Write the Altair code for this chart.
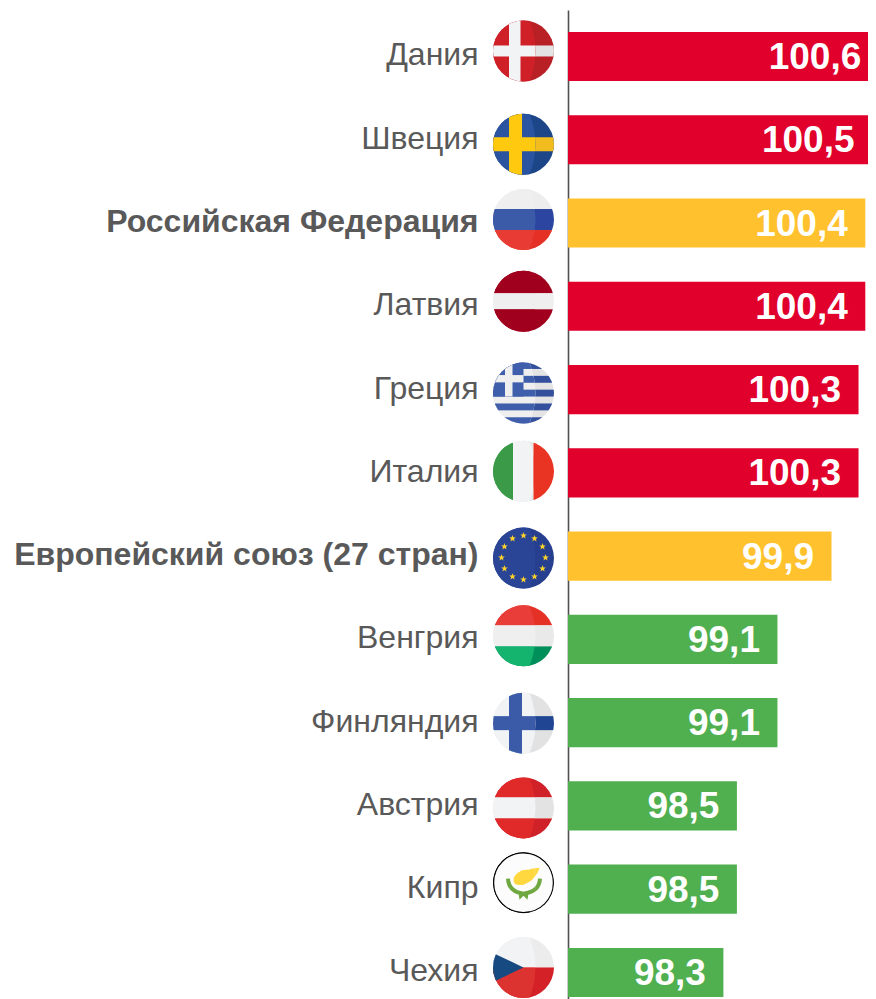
import base64
import math
import altair as alt
import pandas as pd

countries = ["Дания", "Швеция", "Российская Федерация", "Латвия", "Греция", "Италия",
             "Европейский союз (27 стран)", "Венгрия", "Финляндия", "Австрия", "Кипр", "Чехия"]
values = [100.6, 100.5, 100.4, 100.4, 100.3, 100.3, 99.9, 99.1, 99.1, 98.5, 98.5, 98.3]
value_labels = ["100,6", "100,5", "100,4", "100,4", "100,3", "100,3", "99,9", "99,1", "99,1", "98,5", "98,5", "98,3"]
groups = ["high", "high", "ref", "high", "high", "high", "ref", "low", "low", "low", "low", "low"]
bold_labels = ["Российская Федерация", "Европейский союз (27 стран)"]
group_names = ["high", "ref", "low"]
group_colors = ["#E0002B", "#FFC22E", "#50B050"]
axis_start = 96


def rect(x0, y0, x1, y1, c):
    return f'<rect x="{x0}" y="{y0}" width="{x1 - x0}" height="{y1 - y0}" fill="{c}"/>'


def bands(top, mid, bot, h):
    def draw(i):
        return (rect(-40, -40, 40, -h, top[i]) + rect(-40, -h, 40, h, mid[i]) + rect(-40, h, 40, 40, bot[i]))
    return draw


def cross(bg, fg, x0, x1, h):
    def draw(i):
        return (rect(-40, -40, 40, 40, bg[i]) + rect(x0, -40, x1, 40, fg[i]) + rect(-40, -h, 40, h, fg[i]))
    return draw


def greece(i):
    blue = ("#3F5EAB", "#34509C")[i]
    white = ("#EFEFEF", "#E4E4E4")[i]
    s = rect(-40, -40, 40, 40, white)
    for k in (0, 2, 4, 6, 8):
        y = -31 + k * 6.9
        s += rect(-40, y, 40, y + 6.9, blue)
    s += rect(-40, -40, 0, 3.5, blue)
    s += rect(-18.5, -40, -11, 3.5, white) + rect(-40, -18, 0, -10.7, white)
    return s


def italy(i):
    return (rect(-40, -40, -10.5, 40, "#3A9A47") + rect(-10.5, -40, 10, 40, ("#F2F3F5", "#E6E6E6")[i])
            + rect(10, -40, 40, 40, "#E93323"))


def star(cx, cy, r):
    pts = []
    for k in range(10):
        a = -math.pi / 2 + k * math.pi / 5
        q = r if k % 2 == 0 else r * 0.42
        pts.append(f"{cx + q * math.cos(a):.2f},{cy + q * math.sin(a):.2f}")
    return f'<polygon points="{" ".join(pts)}" fill="#FFD329"/>'


def eu(i):
    s = rect(-40, -40, 40, 40, ("#2A4596", "#263F8E")[i])
    for k in range(12):
        a = k * math.pi / 6
        s += star(22 * math.cos(a), -0.5 + 22 * math.sin(a), 3.5)
    return s


def czech(i):
    return (rect(-40, -40, 40, 0, ("#F2F3F5", "#ECECEC")[i]) + rect(-40, 0, 40, 40, ("#DD3330", "#D42027")[i])
            + '<polygon points="0,0 -42,-20 -42,20" fill="#174A80"/>')


def cyprus(i):
    return ('<circle r="30" fill="#FCFCFC" stroke="#000" stroke-width="1.4"/>'
            '<path d="M-10,-2 C-10,-7 -7,-9 -4,-11 C0,-14 4,-12 8,-14 L16,-15 C15,-11 13,-8 11,-6 '
            'C9,-3 7,-1 4,0 C1,2 -2,3 -6,2 C-8,2 -10,0 -10,-2 Z" fill="#FFD83F"/>'
            '<path d="M-15.5,-4 C-15,6 -8,10 0,11 C8,10 16,6 16.5,-4" fill="none" stroke="#6FA840" stroke-width="4"/>'
            '<path d="M-5,10 L-4,17 L0,13 L4,17 L5,10 Z" fill="#6FA840"/>')


flag_draw = [
    (cross(("#CF2028", "#B82026"), ("#F2F3F5", "#E3E3E3"), -14.5, -3, 5.5), -5.5),
    (cross(("#2A54A0", "#1C4688"), ("#FFC90F", "#F0BC1E"), -14.5, -1.5, 7), 4.5),
    (bands(("#EFEFEF", "#EDEDED"), ("#3B5AA8", "#2B45A0"), ("#E73B33", "#E53025"), 10.5), -3.5),
    (bands(("#A0001E", "#A0001E"), ("#EFEFEF", "#EFEFEF"), ("#A0001E", "#A0001E"), 8), -5),
    (greece, 3.5),
    (italy, -1.5),
    (eu, 2),
    (bands(("#E83D38", "#E53025"), ("#EFEFEF", "#E9E9E9"), ("#14B46E", "#008F5A"), 10.5), -3.5),
    (cross(("#F2F3F5", "#E2E2E2"), ("#3B5AA8", "#1F4593"), -14.5, -1.5, 7), 0.5),
    (bands(("#E02A2A", "#D02028"), ("#F2F3F5", "#E3E3E3"), ("#E02A2A", "#D02028"), 10.5), 2),
    (cyprus, -6.5),
    (czech, -5),
]


def flag_uri(idx, draw, dy):
    shaded = draw(1)
    light = draw(0)
    r = 30.5
    svg = (
        '<svg xmlns="http://www.w3.org/2000/svg" width="64" height="80" viewBox="-32 -40 64 80">'
        f'<defs><clipPath id="d{idx}"><circle r="{r}"/></clipPath>'
        f'<clipPath id="l{idx}"><ellipse cx="-30" cy="0" rx="42" ry="58"/></clipPath></defs>'
        f'<g transform="translate(0 {dy})"><g clip-path="url(#d{idx})">{shaded}'
        f'<g clip-path="url(#l{idx})">{light}</g></g></g></svg>'
    )
    return "data:image/svg+xml;base64," + base64.b64encode(svg.encode()).decode()


flags = [flag_uri(i, d, dy) for i, (d, dy) in enumerate(flag_draw)]

df = pd.DataFrame({"country": countries, "value": values, "label": value_labels, "group": groups, "flag": flags})

y = alt.Y(
    "country:N",
    sort=countries,
    title=None,
    scale=alt.Scale(paddingInner=0.41, paddingOuter=0.1435, align=0.917),
    axis=alt.Axis(
        ticks=False,
        domainColor="#505050",
        domainWidth=1.6,
        labelPadding=90,
        labelOffset=-1,
        labelFont="Liberation Sans",
        labelFontSize=32,
        labelColor="#595959",
        labelLimit=600,
        labelFontWeight=alt.condition(
            alt.FieldOneOfPredicate(field="value", oneOf=bold_labels),
            alt.value("bold"),
            alt.value("normal"),
        ),
    ),
)
x = alt.X("value:Q", scale=alt.Scale(domain=[axis_start, 100.44], nice=False, zero=False), axis=None)

bars = alt.Chart(df).mark_bar().encode(
    x=x,
    x2=alt.X2(datum=axis_start),
    y=y,
    color=alt.Color("group:N", scale=alt.Scale(domain=group_names, range=group_colors), legend=None),
)
texts = alt.Chart(df).mark_text(
    align="right", baseline="middle", dx=-17.5, dy=1.5, color="#FFFFFF",
    font="Liberation Sans", fontWeight="bold", fontSize=37,
).encode(x=x, y=alt.Y("country:N", sort=countries), text="label:N")
images = alt.Chart(df).mark_image(width=64, height=80).encode(
    x=alt.value(-44.5), y=alt.Y("country:N", sort=countries), url="flag:N"
)

chart = alt.layer(bars, texts, images).properties(
    width=300,
    height=989,
    padding={"left": 560, "top": 2, "right": 0, "bottom": 0},
    autosize=alt.AutoSizeParams(type="none"),
    background="#FFFFFF",
).configure_view(stroke=None)

chart.save("out.html", embed_options={"renderer": "svg", "actions": False})
